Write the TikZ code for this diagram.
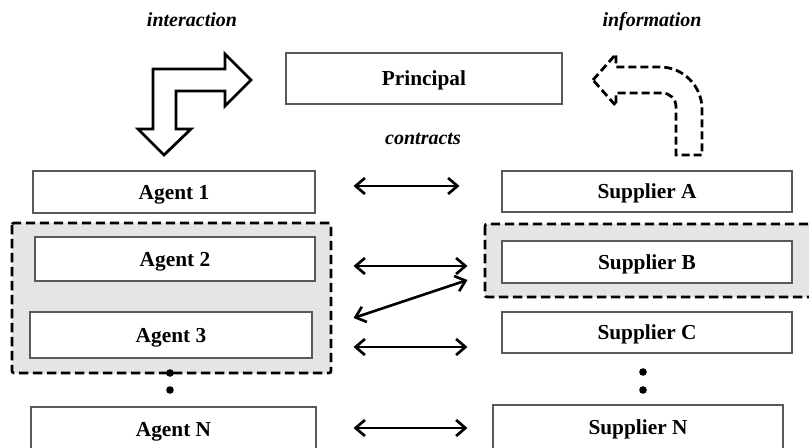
\documentclass[tikz,border=0pt]{standalone}
\usepackage{fontspec}
\setmainfont{Liberation Serif}
\usetikzlibrary{calc,arrows.meta}

\begin{document}
\begin{tikzpicture}[x=0.75pt, y=-0.75pt,
		box/.style={draw=black!65, line width=0.8pt, fill=white, inner sep=0pt,
			text height=10.6pt, text depth=0pt, font=\fontsize{16}{18}\selectfont\bfseries},
		tag/.style={text height=7pt, text depth=0pt, font=\fontsize{15}{17}\selectfont\bfseries\itshape},
		group/.style={draw=black, fill=black!10, line width=2pt, dash pattern=on 7pt off 3.5pt, rounded corners=1.5pt},
		link/.style={line width=2pt, {Straight Barb[length=7pt,width=12pt]}-{Straight Barb[length=7pt,width=12pt]}},
		blockarrow/.style={line width=2.1pt, line join=miter, fill=white}]
			%%%%% START %%%%%
			
			\useasboundingbox (0, 0) rectangle (809, 448);
			
			\draw[group] (12, 223) rectangle (331, 373);
			\draw[group] (485, 224) rectangle (814, 297);
			
			\node[tag] (interact) at (192, 22) {interaction};
			\node[tag] (inform) at (652, 22) {information};
			\node[tag] (contracts) at (423, 140) {contracts};
			
			\node[box, minimum width=207pt, minimum height=38.25pt] (principal) at (424, 78.5) {Principal};
			
			\node[box, minimum width=211.5pt, minimum height=31.5pt] (agent1) at (174, 192) {Agent 1};
			\node[box, minimum width=210pt, minimum height=33pt] (agent2) at (175, 259) {Agent 2};
			\node[box, minimum width=211.5pt, minimum height=34.5pt] (agent3) at (171, 335) {Agent 3};
			\node[box, minimum width=213.75pt, minimum height=33.75pt] (agentN) at (173.5, 429.5) {Agent N};
			
			\node[box, minimum width=217.5pt, minimum height=30.75pt] (supplierA) at (647, 191.5) {Supplier A};
			\node[box, minimum width=217.5pt, minimum height=31.5pt] (supplierB) at (647, 262) {Supplier B};
			\node[box, minimum width=217.5pt, minimum height=30.75pt] (supplierC) at (647, 332.5) {Supplier C};
			\node[box, minimum width=217.5pt, minimum height=33.75pt] (supplierN) at (638, 427.5) {Supplier N};
			
			\fill (170, 373) circle (3.8);
			\fill (170, 390) circle (3.8);
			\fill (643, 372) circle (3.8);
			\fill (643, 390) circle (3.8);
			
			\draw[link] ($(agent1.east)+(38,-6)$) -- ($(supplierA.west)+(-42,-5.5)$);
			\draw[link] ($(agent2.east)+(38,7)$) -- ($(supplierB.west)+(-34,4)$);
			\draw[link] ($(agent3.east)+(41,-17)$) -- ($(supplierB.west)+(-34,18)$);
			\draw[link] ($(agent3.east)+(41,12)$) -- ($(supplierC.west)+(-34,14.5)$);
			\draw[link] ($(agentN.east)+(37,-1.5)$) -- ($(supplierN.west)+(-25,0.5)$);
			
			\draw[blockarrow] (153, 69) -- (225, 69) -- (225, 54) -- (251, 80) -- (225, 106) -- (225, 91)
				-- (176, 91) -- (176, 129) -- (191, 129) -- (164, 155) -- (138, 129) -- (153, 129) -- cycle;
			
			\draw[blockarrow, dash pattern=on 6pt off 3pt] (593, 80) -- (616, 54) -- (616, 67) -- (660, 67)
				.. controls (683, 67) and (702, 86) .. (702, 109) -- (702, 155) -- (676, 155) -- (676, 107)
				.. controls (676, 99) and (670, 93) .. (662, 93) -- (616, 93) -- (616, 106) -- cycle;
			
			%%%%% END %%%%%
		\end{tikzpicture}
\end{document}
